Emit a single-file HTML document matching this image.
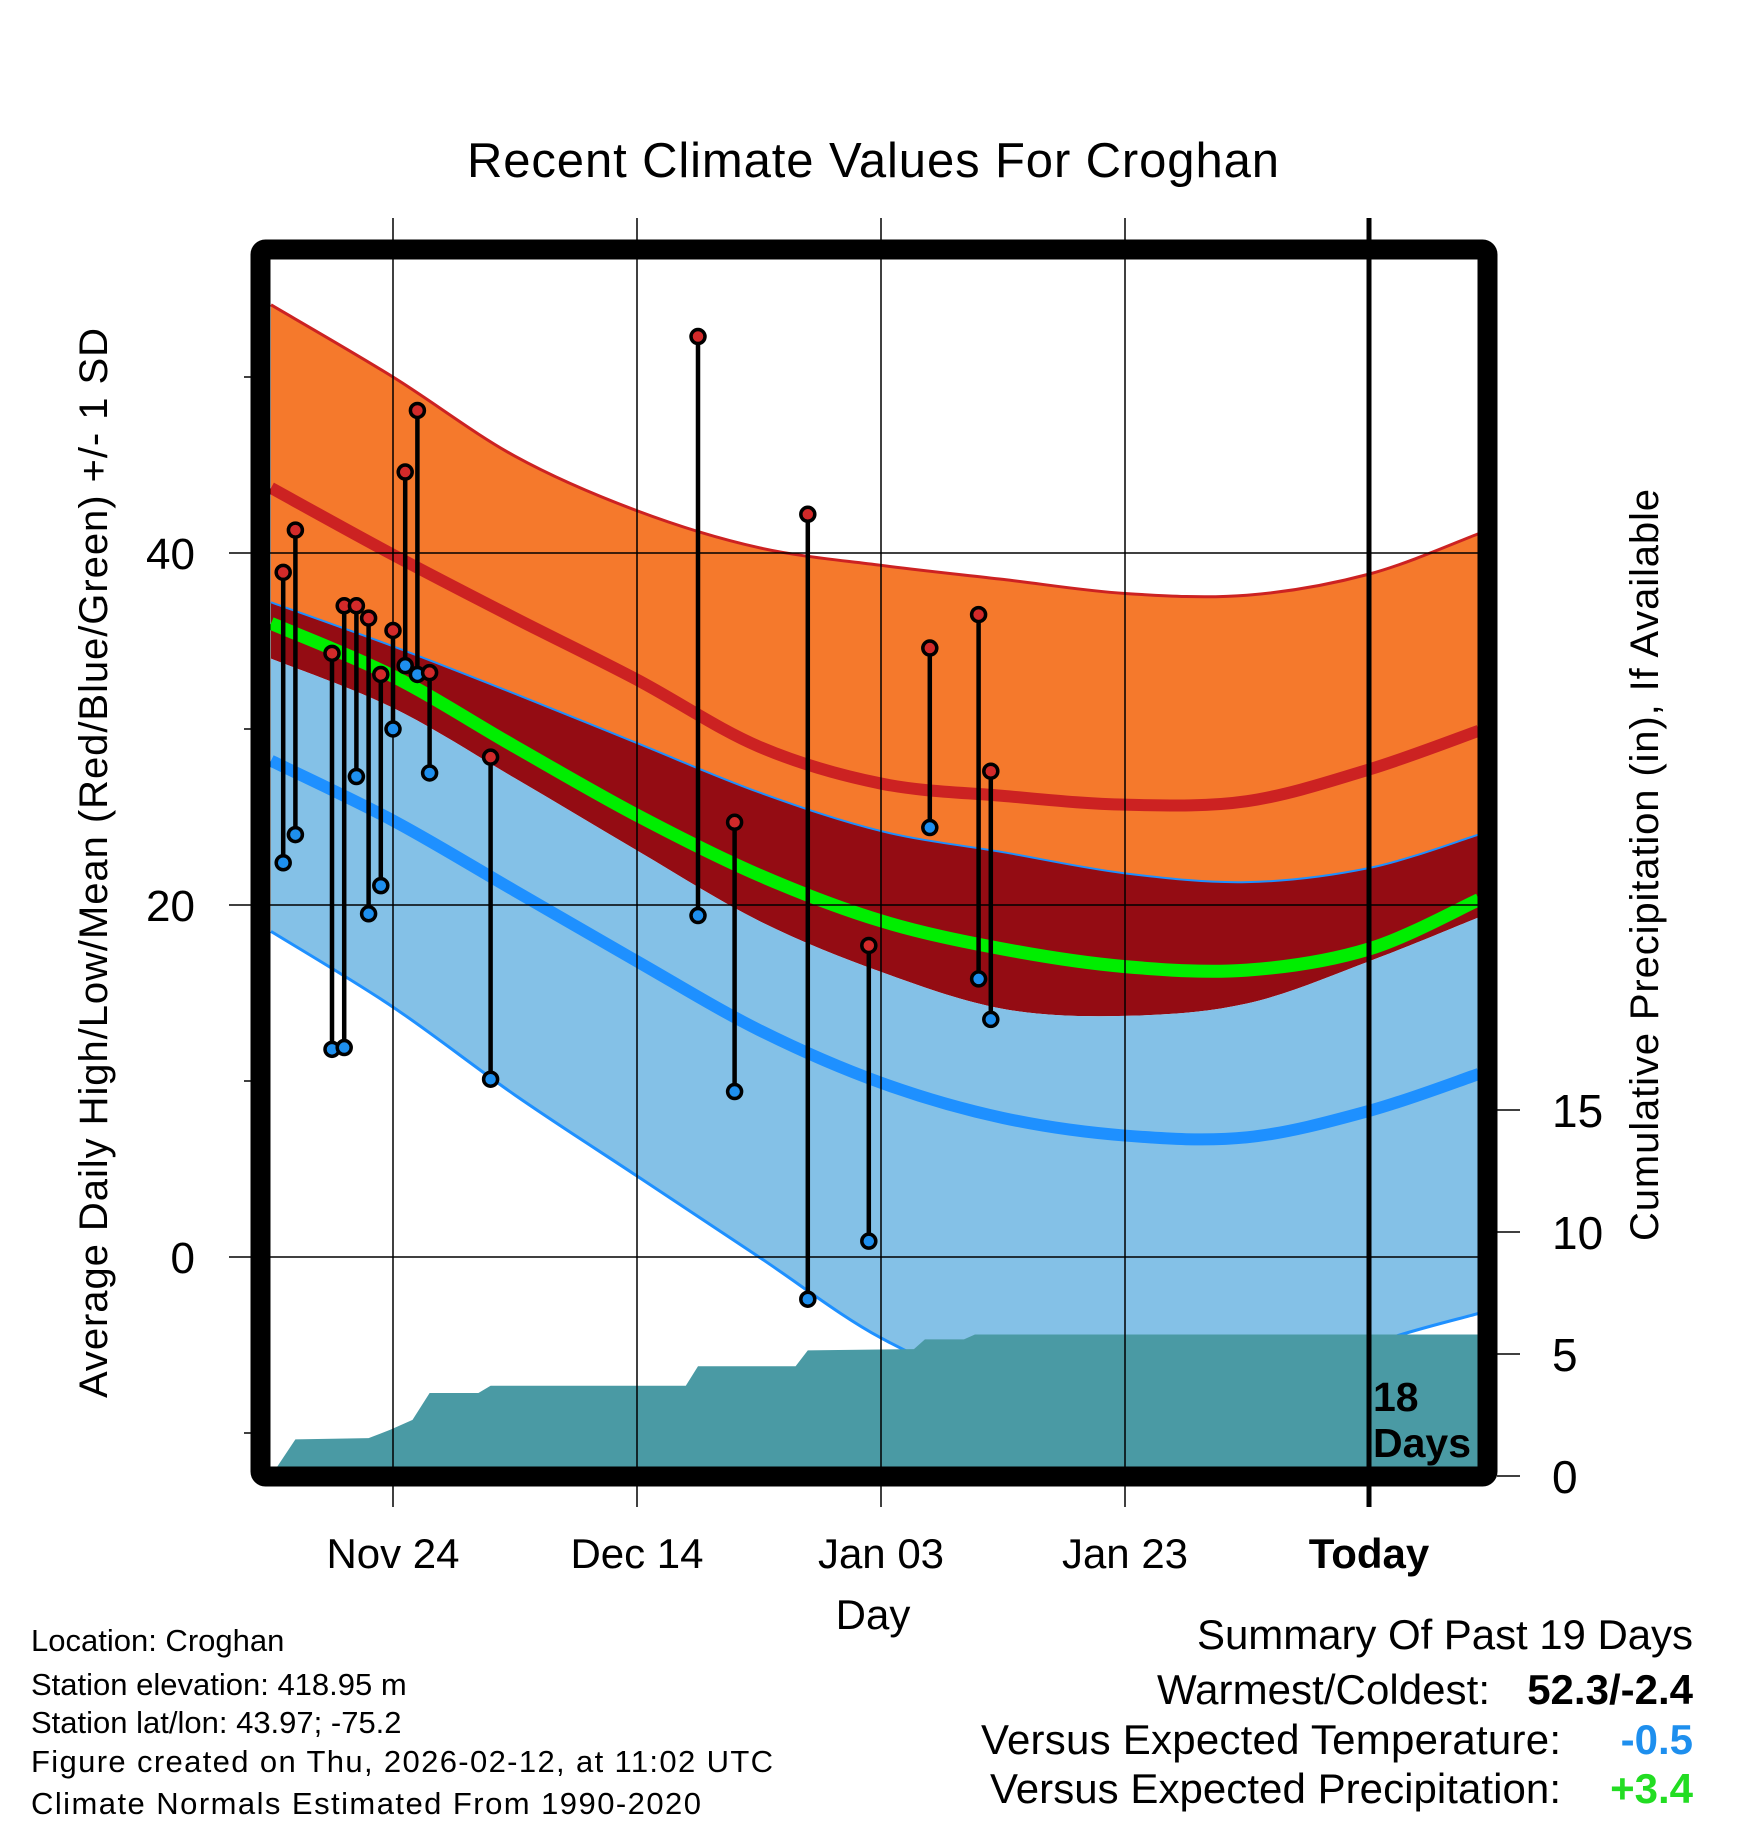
<!DOCTYPE html>
<html><head><meta charset="utf-8"><style>
html,body{margin:0;padding:0;background:#fff}
svg{display:block;font-family:"Liberation Sans",sans-serif}
</style></head><body>
<svg id="chart" width="1748" height="1828" viewBox="0 0 1748 1828">
<defs><clipPath id="plotclip"><rect x="270" y="259" width="1208" height="1208"/></clipPath></defs>
<g id="plot" clip-path="url(#plotclip)"></g>
<g id="grid"></g>
<g id="bars"></g>
<rect x="260.5" y="249.5" width="1227" height="1227" fill="none" stroke="#000" stroke-width="20" rx="5"/>
<g id="axes"></g>
<text x="873" y="177" font-size="49" text-anchor="middle" textLength="812">Recent Climate Values For Croghan</text>
<text transform="translate(107,863) rotate(-90)" font-size="40" text-anchor="middle" textLength="1070">Average Daily High/Low/Mean (Red/Blue/Green) +/- 1 SD</text>
<text transform="translate(1658,865) rotate(-90)" font-size="40" text-anchor="middle" textLength="752">Cumulative Precipitation (in), If Available</text>
<text x="873" y="1629" font-size="42" text-anchor="middle">Day</text>
<text x="1373" y="1411" font-size="41" font-weight="bold">18</text>
<text x="1373" y="1457" font-size="41" font-weight="bold">Days</text>
<g font-size="31">
<text x="31" y="1651">Location: Croghan</text>
<text x="31" y="1695">Station elevation: 418.95 m</text>
<text x="31" y="1733">Station lat/lon: 43.97; -75.2</text>
<text x="31" y="1772" textLength="742">Figure created on Thu, 2026-02-12, at 11:02 UTC</text>
<text x="31" y="1814" textLength="670">Climate Normals Estimated From 1990-2020</text>
</g>
<g font-size="42" text-anchor="end">
<text x="1693" y="1649" textLength="496">Summary Of Past 19 Days</text>
<text x="1490" y="1704" textLength="333">Warmest/Coldest:</text>
<text x="1693" y="1704" font-weight="bold">52.3/-2.4</text>
<text x="1561" y="1754" textLength="580">Versus Expected Temperature:</text>
<text x="1693" y="1754" font-weight="bold" fill="#1e8fee">-0.5</text>
<text x="1561" y="1803" textLength="571">Versus Expected Precipitation:</text>
<text x="1693" y="1803" font-weight="bold" fill="#22dd22">+3.4</text>
</g>
</svg>
<script>
// normals sampled by day offset from Nov 24
const normDays = [-10, 0, 10, 20, 30, 40, 50, 60, 70, 80, 89];
const highPlusSD = [54.1, 50.0, 45.5, 42.4, 40.3, 39.3, 38.5, 37.7, 37.6, 38.8, 41.1];
const meanHigh = [43.7, 39.9, 36.3, 32.8, 29.0, 26.9, 26.2, 25.7, 25.9, 27.7, 29.9];
const highMinusSD = [37.2, 34.7, 32.0, 29.2, 26.4, 24.2, 23.0, 21.8, 21.3, 22.1, 24.0];
const meanTemp = [36.0, 33.0, 29.0, 25.1, 21.7, 19.1, 17.5, 16.5, 16.3, 17.5, 20.3];
const lowPlusSD = [34.0, 31.2, 27.2, 23.1, 19.1, 16.2, 14.1, 13.7, 14.4, 16.8, 19.3];
const meanLow = [28.2, 24.8, 20.8, 16.8, 12.9, 9.9, 7.9, 6.9, 6.8, 8.3, 10.4];
const lowMinusSD = [18.5, 14.2, 9.2, 4.6, 0.0, -4.6, -7.5, -8.5, -8.0, -5.0, -3.2];
// observed
const obsDays = [-9, -8, -5, -4, -3, -2, -1, 0, 1, 2, 3, 8, 25, 28, 34, 39, 44, 48, 49];
const obsHigh = [38.9, 41.3, 34.3, 37.0, 37.0, 36.3, 33.1, 35.6, 44.6, 48.1, 33.2, 28.4, 52.3, 24.7, 42.2, 17.7, 34.6, 36.5, 27.6];
const obsLow = [22.4, 24.0, 11.8, 11.9, 27.3, 19.5, 21.1, 30.0, 33.6, 33.1, 27.5, 10.1, 19.4, 9.4, -2.4, 0.9, 24.4, 15.8, 13.5];
// cumulative precipitation
const precipDays = [-10, -8, -2, -0.2, 1.6, 3, 7, 8, 24, 25, 33, 34, 42.7, 43.6, 46.8, 47.7, 90];
const precipVals = [0, 1.5, 1.55, 1.9, 2.3, 3.4, 3.4, 3.7, 3.7, 4.5, 4.5, 5.15, 5.2, 5.6, 5.6, 5.8, 5.8];
const xTickDays = [0, 20, 40, 60, 80];
const xTickLabels = ["Nov 24", "Dec 14", "Jan 03", "Jan 23", "Today"];
const yTicks = [-10, 0, 10, 20, 30, 40, 50];
const yLabels = ["0", "20", "40"];
const pTicks = [0, 5, 10, 15];

const NS = "http://www.w3.org/2000/svg";
const X = d => 393 + 12.2 * d;
const Y = v => 1257 - 17.6 * v;
const P = v => 1476 - 24.4 * v;
function mk(tag, attrs, parent) { const e = document.createElementNS(NS, tag); for (const k in attrs) e.setAttribute(k, attrs[k]); parent.appendChild(e); return e; }
function pts(vals) { return normDays.map((d, i) => [X(d), Y(vals[i])]); }
function smooth(p) {
  let s = "M" + p[0][0] + "," + p[0][1];
  for (let i = 0; i < p.length - 1; i++) {
    const p0 = p[i - 1] || p[i], p1 = p[i], p2 = p[i + 1], p3 = p[i + 2] || p2;
    s += " C" + (p1[0] + (p2[0] - p0[0]) / 6) + "," + (p1[1] + (p2[1] - p0[1]) / 6) + " " + (p2[0] - (p3[0] - p1[0]) / 6) + "," + (p2[1] - (p3[1] - p1[1]) / 6) + " " + p2[0] + "," + p2[1];
  }
  return s;
}
function band(a, b) {
  const top = smooth(pts(a));
  const bp = pts(b).reverse();
  return top + " L" + smooth(bp).slice(1) + " Z";
}
const plot = document.getElementById("plot");
let e;
e = mk("path", { d: band(highPlusSD, highMinusSD), fill: "#f5792c" }, plot);


e = mk("path", { d: band(highMinusSD, lowPlusSD), fill: "#940c13" }, plot);


e = mk("path", { d: band(lowPlusSD, lowMinusSD), fill: "#84c1e7" }, plot);


e = mk("path", { d: smooth(pts(highPlusSD)), fill: "none", stroke: "#cc2222", "stroke-width": 3 }, plot);


e = mk("path", { d: smooth(pts(highMinusSD)), fill: "none", stroke: "#1e90ff", "stroke-width": 2 }, plot);


e = mk("path", { d: smooth(pts(lowMinusSD)), fill: "none", stroke: "#1e90ff", "stroke-width": 3 }, plot);


e = mk("path", { d: smooth(pts(meanHigh)), fill: "none", stroke: "#cc2222", "stroke-width": 12 }, plot);


e = mk("path", { d: smooth(pts(meanTemp)), fill: "none", stroke: "#00ee00", "stroke-width": 13 }, plot);


e = mk("path", { d: smooth(pts(meanLow)), fill: "none", stroke: "#1e90ff", "stroke-width": 12 }, plot);


let pd = "M" + X(precipDays[0]) + "," + P(0);
precipDays.forEach((d, i) => { pd += " L" + X(d) + "," + P(precipVals[i]); });
pd += " L" + X(precipDays[precipDays.length - 1]) + "," + P(0) + " Z";
e = mk("path", { d: pd, fill: "#4a9aa4" }, plot);



const grid = document.getElementById("grid");
xTickDays.forEach((d, i) => {
  const g = mk("line", { x1: X(d), x2: X(d), y1: 218, y2: 1507, stroke: "#000", "stroke-width": i === 4 ? 5 : 1.5 }, grid);
  
  
});
yTicks.forEach(v => {
  const major = v % 20 === 0;
  const g = mk("line", { x1: major ? 229 : 244, x2: major ? 1478 : 260, y1: Y(v), y2: Y(v), stroke: "#000", "stroke-width": 1.5 }, grid);
  
  
});

const bars = document.getElementById("bars");
obsDays.forEach((d, i) => {
  const l = mk("line", { x1: X(d), x2: X(d), y1: Y(obsHigh[i]), y2: Y(obsLow[i]), stroke: "#000", "stroke-width": 4.5 }, bars);
  
  
  const h = mk("circle", { cx: X(d), cy: Y(obsHigh[i]), r: 7, fill: "#d22a2a", stroke: "#000", "stroke-width": 3.5 }, bars);
  
  
  const lo = mk("circle", { cx: X(d), cy: Y(obsLow[i]), r: 7, fill: "#1e8fee", stroke: "#000", "stroke-width": 3.5 }, bars);
  
  
});

const axes = document.getElementById("axes");
xTickLabels.forEach((t, i) => {
  const tx = mk("text", { x: X(xTickDays[i]), y: 1568, "font-size": 42, "text-anchor": "middle", "font-weight": i === 4 ? "bold" : "normal" }, axes);
  tx.textContent = t;
  
  
});
yLabels.forEach(t => {
  const tx = mk("text", { x: 195, y: Y(+t) + 16, "font-size": 44, "text-anchor": "end" }, axes);
  tx.textContent = t;
  
  
});
pTicks.forEach(v => {
  const tk = mk("line", { x1: 1497, x2: 1520, y1: P(v), y2: P(v), stroke: "#000", "stroke-width": 1.5 }, axes);
  
  
  const tx = mk("text", { x: 1552, y: P(v) + 17, "font-size": 46 }, axes);
  tx.textContent = String(v);
  
  
});
</script>
</body></html>
